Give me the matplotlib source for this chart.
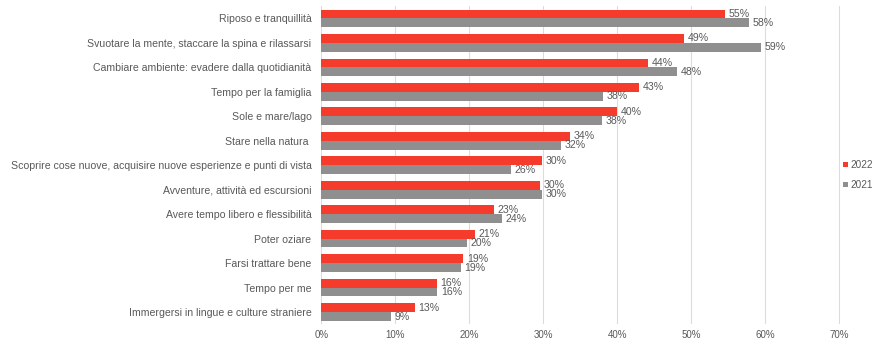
import numpy as np
import matplotlib.pyplot as plt

categories = [
    "Riposo e tranquillità",
    "Svuotare la mente, staccare la spina e rilassarsi",
    "Cambiare ambiente: evadere dalla quotidianità",
    "Tempo per la famiglia",
    "Sole e mare/lago",
    "Stare nella natura ",
    "Scoprire cose nuove, acquisire nuove esperienze e punti di vista",
    "Avventure, attività ed escursioni",
    "Avere tempo libero e flessibilità",
    "Poter oziare",
    "Farsi trattare bene",
    "Tempo per me",
    "Immergersi in lingue e culture straniere",
]
vals_2022 = [54.6, 49.0, 44.2, 42.9, 40.0, 33.6, 29.8, 29.6, 23.4, 20.8, 19.2, 15.6, 12.7]
vals_2021 = [57.8, 59.4, 48.1, 38.1, 37.9, 32.4, 25.6, 29.8, 24.4, 19.7, 18.9, 15.7, 9.4]

red = "#f43b2c"
grey = "#8f8f8f"
txt = "#595959"

plt.rcParams["font.family"] = ["Liberation Sans", "DejaVu Sans"]

fig = plt.figure(figsize=(8.8, 3.4), dpi=100)
ax = fig.add_axes([0.365, 0.046, 0.594, 0.936])

y = np.arange(len(categories))
h = 0.36
b1 = ax.barh(y - h / 2, vals_2022, height=h, color=red, label="2022", zorder=3)
b2 = ax.barh(y + h / 2, vals_2021, height=h, color=grey, label="2021", zorder=3)

for bars, vals in [(b1, vals_2022), (b2, vals_2021)]:
    for rect, v in zip(bars, vals):
        ax.annotate(f"{v:.0f}%", (v, rect.get_y() + rect.get_height() / 2),
                    xytext=(2.5, 0), textcoords="offset points",
                    va="center", ha="left", fontsize=7.6, color=txt)

ax.set_ylim(len(categories) - 0.5, -0.5)
ax.set_xlim(0, 70.6)
ax.set_xticks(range(0, 71, 10))
ax.set_xticklabels([f"{t}%" for t in range(0, 71, 10)])
ax.set_yticks(y)
ax.set_yticklabels(categories)
ax.tick_params(axis="x", length=0, labelsize=7, colors=txt, pad=4)
ax.tick_params(axis="y", length=0, labelsize=7.6, colors=txt, pad=7)
ax.xaxis.grid(True, color="#dcdcdc", linewidth=0.8, zorder=0)
for s in ax.spines.values():
    s.set_visible(False)

leg = fig.legend(handles=[b1, b2], loc="center left", bbox_to_anchor=(0.953, 0.485),
                 frameon=False, fontsize=7.2, handlelength=0.5, handleheight=0.5,
                 handletextpad=0.3, labelspacing=1.0, borderaxespad=0)
for t in leg.get_texts():
    t.set_color(txt)

fig.savefig("out.png", dpi=100)
